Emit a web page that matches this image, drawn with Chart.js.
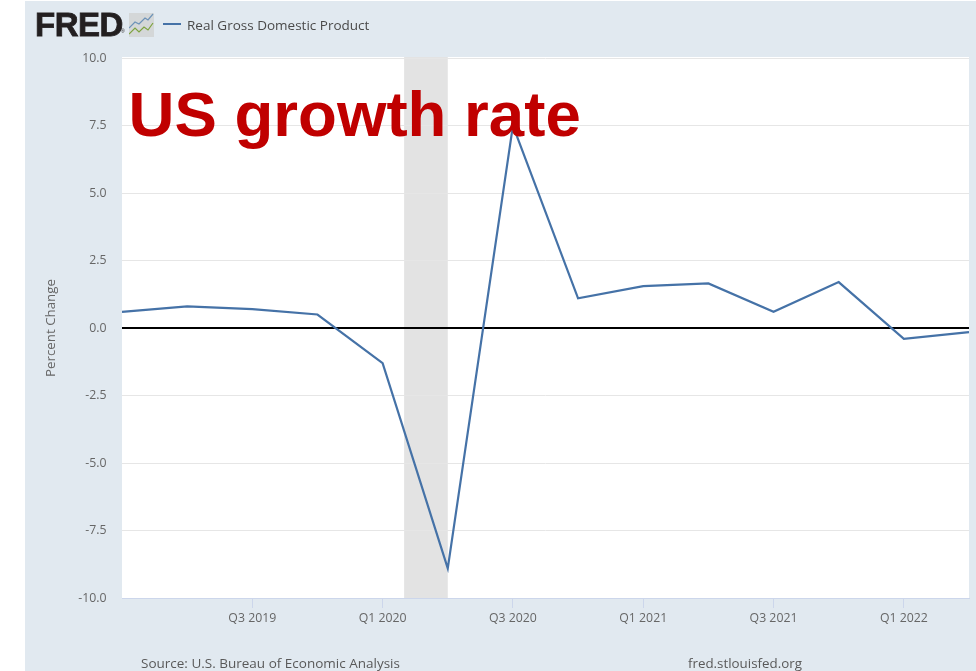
<!DOCTYPE html>
<html>
<head>
<meta charset="utf-8">
<script src="https://cdn.jsdelivr.net/npm/chart.js@4/dist/chart.umd.min.js"></script>
<style>
  html, body { margin: 0; padding: 0; background: #fff; width: 976px; height: 671px; overflow: hidden; }
  #panel { position: absolute; left: 25px; top: 1px; width: 951px; height: 670px; background: #e1e9f0; }
  #chart { position: absolute; left: 0; top: 0; }
  .t { position: absolute; white-space: nowrap; font-family: "Open Sans", sans-serif; }
  #logo { left: 35px; top: 3px; font: 800 33px/44px "Liberation Sans", sans-serif; color: #231f20; letter-spacing: -0.5px; -webkit-text-stroke: 0.8px #231f20; }
  #reg { left: 121px; top: 28px; font: 5px/6px "Liberation Sans", sans-serif; color: #231f20; }
  #icon { position: absolute; left: 129px; top: 13px; }
  #swatch { position: absolute; left: 163px; top: 23px; width: 18px; height: 2px; background: #4572a7; }
  #legend { left: 187px; top: 15px; font-size: 13.5px; line-height: 20px; color: #4a4a4a; }
  #source { left: 141px; top: 653px; font-size: 13.5px; line-height: 20px; color: #595959; }
  #site { left: 688px; top: 653px; font-size: 13.35px; line-height: 20px; color: #595959; }
  #headline { left: 128.5px; top: 74px; font: bold 63.6px/80px "Liberation Sans", sans-serif; color: #c00000; }
</style>
</head>
<body>
<div id="panel"></div>
<canvas id="chart" width="976" height="671"></canvas>
<div class="t" id="logo">FRED</div>
<div class="t" id="reg">®</div>
<svg id="icon" width="25" height="24" viewBox="0 0 25 24">
  <rect width="25" height="24" fill="#d4d7d8"/>
  <polyline points="0,15 6,9 10,11 16,5 19,7 24,1" fill="none" stroke="#6d93b8" stroke-width="1.2"/>
  <polyline points="0,21 6,15 10,19 15,14 19,17 24,10" fill="none" stroke="#7da33f" stroke-width="1.2"/>
</svg>
<div id="swatch"></div>
<div class="t" id="legend">Real Gross Domestic Product</div>
<div class="t" id="source">Source: U.S. Bureau of Economic Analysis</div>
<div class="t" id="site">fred.stlouisfed.org</div>
<div class="t" id="headline">US growth rate</div>
<script>
// Percent change of real GDP, quarter on quarter
const quarters = ['Q1 2019','Q2 2019','Q3 2019','Q4 2019','Q1 2020','Q2 2020','Q3 2020',
                  'Q4 2020','Q1 2021','Q2 2021','Q3 2021','Q4 2021','Q1 2022','Q2 2022'];
const gdpChange = [0.6, 0.8, 0.7, 0.5, -1.3, -8.9, 7.5, 1.1, 1.55, 1.65, 0.6, 1.7, -0.4, -0.15];
const zeroLine = [0, 0, 0, 0, 0, 0, 0, 0, 0, 0, 0, 0, 0, 0];
const labelledQuarters = ['Q3 2019','Q1 2020','Q3 2020','Q1 2021','Q3 2021','Q1 2022'];
const yTicks = [10, 7.5, 5, 2.5, 0, -2.5, -5, -7.5, -10];
// Recession band, as fractional positions on the quarterly axis
const recessionStart = 4.33;
const recessionEnd = 5;

// White plot background and the shaded recession, painted below the lines
const plotBackground = {
  id: 'plotBackground',
  beforeDraw(chart) {
    const { ctx, chartArea: a, scales: { x } } = chart;
    ctx.save();
    ctx.fillStyle = '#ffffff';
    ctx.fillRect(a.left, a.top - 1, a.width, a.height + 1);
    ctx.fillStyle = '#e3e3e3';
    const x0 = x.getPixelForValue(recessionStart);
    const x1 = x.getPixelForValue(recessionEnd);
    ctx.fillRect(x0, a.top - 1, x1 - x0, a.height + 1);
    ctx.restore();
  }
};

const tickFont = { family: '"Open Sans", sans-serif', size: 12.3 };

new Chart(document.getElementById('chart'), {
  type: 'line',
  plugins: [plotBackground],
  data: {
    labels: quarters,
    datasets: [
      { label: 'Zero', data: zeroLine, borderColor: '#000000', borderWidth: 2, pointRadius: 0, order: 2 },
      { label: 'Real Gross Domestic Product', data: gdpChange, borderColor: '#4572a7', borderWidth: 2.2,
        pointRadius: 0, tension: 0, order: 1 }
    ]
  },
  options: {
    responsive: false,
    animation: false,
    layout: { padding: { left: 25, top: 58, right: 7, bottom: 0 } },
    plugins: { legend: { display: false }, tooltip: { enabled: false } },
    scales: {
      x: {
        offset: false,
        afterFit(s) { s.height = 73; },
        border: { color: '#ccd6eb', width: 1 },
        grid: {
          drawOnChartArea: false, tickLength: 10,
          tickColor: c => labelledQuarters.includes(quarters[c.index]) ? '#ccd6eb' : 'transparent'
        },
        ticks: {
          autoSkip: false, maxRotation: 0, padding: 3, color: '#666666', font: tickFont,
          callback(v) { const q = quarters[v]; return labelledQuarters.includes(q) ? q : ''; }
        }
      },
      y: {
        min: -10, max: 10,
        afterFit(s) { s.width = 97; },
        afterBuildTicks(s) { s.ticks = yTicks.map(value => ({ value })); },
        border: { display: false },
        grid: { color: '#e6e6e6', lineWidth: 1, drawTicks: false },
        title: { display: true, text: 'Percent Change', color: '#666666',
                 font: { family: '"Open Sans", sans-serif', size: 13.3 }, padding: { top: 18, bottom: 0 } },
        ticks: { color: '#666666', font: tickFont, padding: 15.5, callback: v => v.toFixed(1) }
      }
    }
  }
});
</script>
</body>
</html>
